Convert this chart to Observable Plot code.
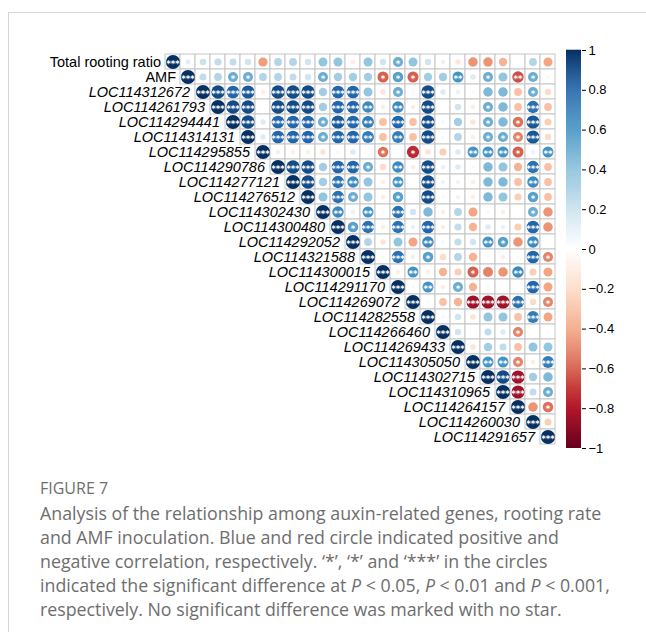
<!DOCTYPE html>
<html><head><meta charset="utf-8">
<script src="https://cdn.jsdelivr.net/npm/d3@7"></script>
<script src="https://cdn.jsdelivr.net/npm/@observablehq/plot@0.6"></script>
<style>
body{margin:0;background:#fff;}
#wrap{position:relative;width:646px;height:632px;overflow:hidden;background:#fff;}
#frame{position:absolute;left:8px;top:12px;right:-2px;bottom:-2px;border-top:1px solid #d6d6d6;border-left:1px solid #d6d6d6;}
#main{position:absolute;left:0;top:0;}
#bar{position:absolute;left:566px;top:0;}
#cap{position:absolute;left:40px;top:478px;width:606px;font-family:"Open Sans",sans-serif;color:#6e6e6e;white-space:nowrap;}
#cap .fig{font-size:16px;line-height:20px;margin-bottom:3px;}
#cap .txt{font-size:17.8px;line-height:24px;}
</style></head>
<body>
<div id="wrap">
  <div id="frame"></div>
  <div id="main"></div>
  <div id="bar"></div>
  <div id="cap">
    <div class="fig">FIGURE 7</div>
    <div class="txt">Analysis of the relationship among auxin-related genes, rooting rate<br>and AMF inoculation. Blue and red circle indicated positive and<br>negative correlation, respectively. ‘*’, ‘*’ and ‘***’ in the circles<br>indicated the significant difference at <i>P</i> &lt; 0.05, <i>P</i> &lt; 0.01 and <i>P</i> &lt; 0.001,<br>respectively. No significant difference was marked with no star.</div>
  </div>
</div>
<script>
const labels = ["Total rooting ratio","AMF","LOC114312672","LOC114261793","LOC114294441","LOC114314131","LOC114295855","LOC114290786","LOC114277121","LOC114276512","LOC114302430","LOC114300480","LOC114292052","LOC114321588","LOC114300015","LOC114291170","LOC114269072","LOC114282558","LOC114266460","LOC114269433","LOC114305050","LOC114302715","LOC114310965","LOC114264157","LOC114260030","LOC114291657"];

// upper-triangle correlations: corr[i][k] is for row i, column i+k
const corr = [
  [1,0.12,0.22,0.25,0.25,0.2,-0.42,0.3,0.3,0.2,0.4,0.4,-0.1,0.4,0.2,0.5,0.4,0.2,0.1,-0.15,-0.45,-0.45,-0.35,0.02,0.3,-0.4],
  [1,0.25,0.3,0.5,0.5,0.3,0.3,0.25,0.2,0.5,0.35,0.35,0.35,-0.6,0.55,-0.6,0.35,0.35,0.6,0.15,0.5,0.4,-0.65,0.5,0.05],
  [1,0.9,0.8,0.85,-0.1,0.9,0.9,0.9,0.35,0.8,0.8,0.4,-0.15,0.5,-0.05,0.9,0.15,0.1,-0.05,0.45,0.45,-0.3,0.5,-0.2],
  [1,0.9,0.9,0.02,0.9,0.9,0.9,0.35,0.8,0.8,0.65,-0.1,0.65,-0.1,0.9,0.02,0.2,-0.1,0.5,0.45,-0.3,0.75,-0.3],
  [1,0.9,0.15,0.8,0.8,0.8,0.5,0.85,0.8,0.7,-0.3,0.8,-0.3,0.9,0.05,0.35,-0.15,0.5,0.45,-0.55,0.85,-0.25],
  [1,0.15,0.8,0.8,0.8,0.5,0.8,0.8,0.7,-0.3,0.7,-0.3,0.9,0.05,0.3,-0.1,0.5,0.5,-0.5,0.85,-0.2],
  [1,-0.1,-0.1,-0.1,-0.15,-0.05,0.15,0.02,-0.55,0,-0.75,-0.15,-0.25,0.15,0.6,0.6,0.6,-0.6,0.1,0.6],
  [1,0.9,0.9,0.35,0.8,0.8,0.5,-0.2,0.65,-0.1,0.9,0.1,0.15,0.05,0.45,0.4,-0.35,0.75,-0.3],
  [1,0.9,0.35,0.75,0.65,0.4,-0.1,0.6,0,0.9,0.08,0.08,-0.1,0.45,0.45,-0.3,0.65,-0.3],
  [1,0.4,0.75,0.5,0.4,-0.1,0.55,0,0.9,0.05,0.08,-0.1,0.45,0.4,-0.25,0.55,-0.3],
  [1,0.65,0.1,0.6,-0.05,0.75,0.2,0.45,-0.1,0.3,-0.4,-0.05,-0.1,-0.03,0.5,-0.45],
  [1,0.55,0.75,-0.1,0.75,0.1,0.8,-0.1,0.25,-0.35,0.15,0.1,-0.25,0.8,-0.45],
  [1,0.3,-0.15,0.4,-0.4,0.65,0.05,0.25,0.2,0.6,0.55,-0.45,0.65,0],
  [1,-0.05,0.75,0.1,0.55,-0.2,0.3,-0.35,-0.05,-0.1,-0.05,0.8,-0.5],
  [1,-0.1,0.6,-0.1,-0.35,-0.25,-0.6,-0.5,-0.45,0.65,-0.25,-0.4],
  [1,0.05,0.6,-0.1,0.5,-0.35,0.05,0.02,0,0.8,-0.4],
  [1,0.05,-0.3,-0.35,-0.85,-0.85,-0.85,0.75,-0.2,-0.5],
  [1,0.05,0.2,-0.15,0.4,0.4,-0.3,0.7,-0.4],
  [1,0.2,0.02,0.25,0.15,-0.5,0.02,0.05],
  [1,-0.15,0.35,0.25,-0.3,0.4,0.4],
  [1,0.6,0.6,-0.5,-0.1,0.7],
  [1,0.9,-0.85,0.35,0.45],
  [1,-0.85,0.25,0.5],
  [1,-0.45,-0.55],
  [1,-0.25],
  [1]
];

// significance stars (0 none, 1 "*", 2 "**", 3 "***"), same layout as corr
const stars = [
  [3,0,0,0,0,0,0,0,0,0,0,0,0,0,0,1,0,0,0,0,0,0,0,0,0,0],
  [3,0,0,1,1,0,0,0,0,1,0,0,0,1,1,1,0,0,2,0,1,0,2,1,0],
  [3,3,3,3,0,3,3,3,0,3,3,0,0,1,0,3,0,0,0,0,0,0,1,0],
  [3,3,3,0,3,3,3,0,3,3,2,0,2,0,3,0,0,0,1,0,0,3,0],
  [3,3,0,3,3,3,1,3,3,2,0,3,0,3,0,0,0,1,0,1,3,0],
  [3,0,3,3,3,1,3,3,2,0,2,0,3,0,0,0,1,1,1,3,0],
  [3,0,0,0,0,0,0,0,1,0,1,0,0,0,2,2,2,1,0,2],
  [3,3,3,0,3,3,1,0,2,0,3,0,0,0,0,0,0,3,0],
  [3,3,0,3,2,0,0,2,0,3,0,0,0,0,0,0,2,0],
  [3,0,3,1,0,0,1,0,3,0,0,0,0,0,0,1,0],
  [3,2,0,2,0,3,0,0,0,0,0,0,0,0,1,0],
  [3,1,3,0,3,0,3,0,0,0,0,0,0,3,0],
  [3,0,0,0,0,2,0,0,0,2,1,0,2,0],
  [3,0,3,0,1,0,0,0,0,0,0,3,1],
  [3,0,2,0,0,0,1,0,0,2,0,0],
  [3,0,2,0,1,0,0,0,0,3,0],
  [3,0,0,0,3,3,3,3,0,1],
  [3,0,0,0,0,0,0,3,0],
  [3,0,0,0,0,1,0,0],
  [3,0,0,0,0,0,0],
  [3,2,2,1,0,3],
  [3,3,3,0,0],
  [3,3,0,1],
  [3,0,1],
  [3,0],
  [3]
];

const barTicks = [-1,-0.8,-0.6,-0.4,-0.2,0,0.2,0.4,0.6,0.8,1];

const palette = ["#67001F","#B2182B","#D6604D","#F4A582","#FDDBC7","#FFFFFF","#D1E5F0","#92C5DE","#4393C3","#2166AC","#053061"];
const interp = d3.piecewise(d3.interpolateRgb, palette);
const colorScale = {type:"linear", domain:[-1,1], interpolate: interp};

const data = [];
corr.forEach((row,i)=>row.forEach((v,k)=>{
  data.push({row: labels[i], col: labels[i+k], v, s: stars[i][k]});
}));

const font = "'Liberation Sans', Arial, sans-serif";

const main = Plot.plot({
  width: 646, height: 460,
  marginLeft: 162, marginRight: 88, marginTop: 50, marginBottom: 12,
  x: {type:"band", domain: labels, padding: 0, axis: null},
  y: {type:"band", domain: labels, padding: 0, axis: null},
  color: colorScale,
  r: {type:"sqrt", domain:[0,1], range:[0,7.1]},
  style: {fontFamily: font, background: "transparent", overflow: "visible"},
  marks: [
    Plot.cell(data, {x:"col", y:"row", fill:"white", stroke:"#c6c6c6", strokeWidth:1, inset:0}),
    Plot.dot(data, {x:"col", y:"row", r: d => Math.abs(d.v), fill: "v"}),
    Plot.text(data.filter(d => d.s > 0), {x:"col", y:"row", text: d => "*".repeat(d.s), fill:"white", fontSize: 8.5, fontFamily:"DejaVu Sans", fontWeight:"bold", dy: 2.2}),
    Plot.text(labels.slice(0,2), {x: d => d, y: d => d, text: d => d, textAnchor:"end", dx:-12, fontSize:14.5, fill:"black"}),
    Plot.text(labels.slice(2), {x: d => d, y: d => d, text: d => d, textAnchor:"end", dx:-13, fontSize:14.5, fill:"black", fontStyle:"italic"})
  ]
});
document.getElementById("main").appendChild(main);

const step = 0.005;
const slices = d3.range(-1, 1 - step/2, step);
const bar = Plot.plot({
  width: 80, height: 460,
  marginLeft: 0, marginRight: 65, marginTop: 50, marginBottom: 12,
  x: {domain:[0,1], axis:null},
  y: {domain:[-1,1], axis:null},
  color: colorScale,
  style: {fontFamily: font, background: "transparent", overflow: "visible"},
  marks: [
    Plot.rect(slices, {x1: () => 0, x2: () => 1, y1: d => d, y2: d => d + step * 1.3, fill: d => d + step/2}),
    Plot.axisY({anchor:"right", ticks: barTicks, tickFormat: d => d3.format("~g")(d), tickSize: 4, tickPadding: 3, fontSize: 13, fill:"black"})
  ]
});
document.getElementById("bar").appendChild(bar);
</script>
</body></html>
